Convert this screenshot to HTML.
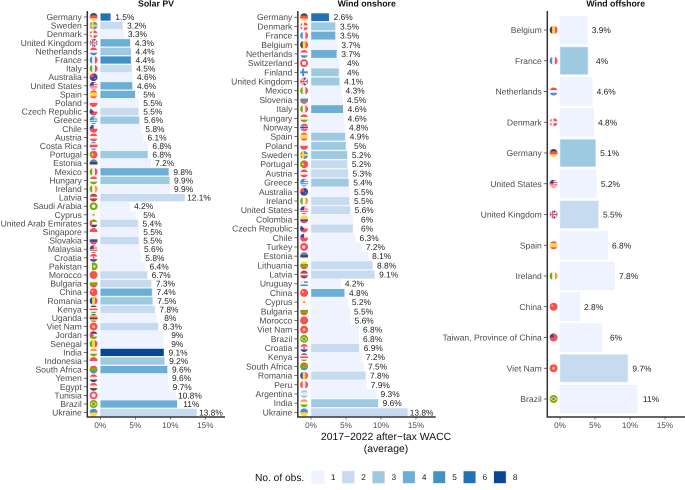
<!DOCTYPE html>
<html lang="en">
<head>
<meta charset="utf-8">
<title>2017-2022 after-tax WACC by technology and country</title>
<style>
html,body{margin:0;padding:0;background:#fff;width:685px;height:490px;overflow:hidden}
svg{display:block;filter:blur(0.3px)}
text{font-family:"Liberation Sans",Arial,sans-serif;text-rendering:geometricPrecision}
</style>
</head>
<body>
<svg id="chart" xmlns="http://www.w3.org/2000/svg" width="685" height="490" viewBox="0 0 685 490">
  <defs><clipPath id="flag-clip"><circle cx="0" cy="0" r="1"></circle></clipPath></defs>
  <rect x="0" y="0" width="685" height="490" fill="#fff"></rect>
  <text x="386" y="440" font-size="10.4" text-anchor="middle" fill="#111">2017−2022 after−tax WACC</text>
  <text x="386" y="452" font-size="10.4" text-anchor="middle" fill="#111">(average)</text>
  <text x="255" y="481" font-size="10.2" fill="#111">No. of obs.</text>
</svg>
<script>
const solarCountries = ["Germany","Sweden","Denmark","United Kingdom","Netherlands","France","Italy","Australia","United States","Spain","Poland","Czech Republic","Greece","Chile","Austria","Costa Rica","Portugal","Estonia","Mexico","Hungary","Ireland","Latvia","Saudi Arabia","Cyprus","United Arab Emirates","Singapore","Slovakia","Malaysia","Croatia","Pakistan","Morocco","Bulgaria","China","Romania","Kenya","Uganda","Viet Nam","Jordan","Senegal","India","Indonesia","South Africa","Yemen","Egypt","Tunisia","Brazil","Ukraine"];
const solarValues = [1.5,3.2,3.3,4.3,4.4,4.4,4.5,4.6,4.6,5,5.5,5.5,5.6,5.8,6.1,6.8,6.8,7.2,9.8,9.9,9.9,12.1,4.2,5,5.4,5.5,5.5,5.6,5.8,6.4,6.7,7.3,7.4,7.5,7.8,8,8.3,9,9,9.1,9.2,9.6,9.6,9.7,10.8,11,13.8];
const solarObs = [6,2,1,4,3,5,2,1,4,4,1,2,3,1,1,1,3,1,4,3,1,2,1,1,2,1,2,1,1,1,2,2,4,3,2,1,2,1,1,8,3,4,1,1,1,4,2];

const onshoreCountries = ["Germany","Denmark","France","Belgium","Netherlands","Switzerland","Finland","United Kingdom","Mexico","Slovenia","Italy","Hungary","Norway","Spain","Poland","Sweden","Portugal","Austria","Greece","Australia","Ireland","United States","Colombia","Czech Republic","Chile","Turkey","Estonia","Lithuania","Latvia","Uruguay","China","Cyprus","Bulgaria","Morocco","Viet Nam","Brazil","Croatia","Kenya","South Africa","Romania","Peru","Argentina","India","Ukraine"];
const onshoreValues = [2.6,3.5,3.5,3.7,3.7,4,4,4.1,4.3,4.5,4.6,4.6,4.8,4.9,5,5.2,5.2,5.3,5.4,5.5,5.5,5.6,6,6,6.3,7.2,8.1,8.8,9.1,4.2,4.8,5.2,5.5,5.6,6.8,6.8,6.9,7.2,7.5,7.8,7.9,9.3,9.6,13.8];
const onshoreObs = [6,3,4,1,4,1,3,3,1,1,4,1,1,3,3,3,2,2,3,1,2,2,1,2,1,1,1,2,2,1,4,1,1,1,1,1,2,1,1,2,1,1,3,2];

const offshoreCountries = ["Belgium","France","Netherlands","Denmark","Germany","United States","United Kingdom","Spain","Ireland","China","Taiwan, Province of China","Viet Nam","Brazil"];
const offshoreValues = [3.9,4,4.6,4.8,5.1,5.2,5.5,6.8,7.8,2.8,6,9.7,11];
const offshoreObs = [1,3,1,1,3,1,2,1,1,1,1,2,1];

const xTickValues = [0,5,10,15];
const legendCounts = [1,2,3,4,5,6,8];

const obsColor = {1:"#eff3ff",2:"#c6dbef",3:"#9ecae1",4:"#6baed6",5:"#4292c6",6:"#2171b5",8:"#084594"};

const R="#ff4b55",W="#f5f5f5",B="#41479b",L="#4a8fd0",G="#73af00",Y="#ffd83d",K="#464655",O="#ff9b3d",S="#a2d0ee",D="#b0394a";
const flagSpecs = {
  "Germany":{h:[K,R,Y]},
  "Sweden":{h:[L],cross:[Y,Y]},
  "Denmark":{h:[R],cross:[W,W]},
  "United Kingdom":{h:[B],cross:[W,R],diag:W},
  "Netherlands":{h:[R,W,L]},
  "France":{v:[L,W,R]},
  "Italy":{v:[G,W,R]},
  "Australia":{h:[B],canton:R,dot:[W,0.12,0.4,0.3]},
  "United States":{h:[R,W,R,W,R,W,R],canton:B},
  "Spain":{h:[R,Y,Y,R]},
  "Poland":{h:[W,R]},
  "Czech Republic":{h:[W,R],tri:B},
  "Greece":{h:[L,W,L,W,L,W,L],canton:L},
  "Chile":{h:[W,R],canton:B},
  "Austria":{h:[R,W,R]},
  "Costa Rica":{h:[L,W,R,R,W,L]},
  "Portugal":{v:[G,R,R],dot:[Y,0.25,-0.25,0]},
  "Estonia":{h:[L,K,W]},
  "Mexico":{v:[G,W,R]},
  "Hungary":{h:[R,W,G]},
  "Ireland":{v:[G,W,O]},
  "Latvia":{h:[D,D,W,D,D]},
  "Saudi Arabia":{h:[G],dot:[W,0.45,0,0]},
  "Cyprus":{h:[W],dot:[O,0.3,0,0]},
  "United Arab Emirates":{h:[G,W,K],vbar:R},
  "Singapore":{h:[R,W]},
  "Slovakia":{h:[W,B,R]},
  "Malaysia":{h:[R,W,R,W,R,W,R],canton:B},
  "Croatia":{h:[R,W,B],dot:[R,0.25,0,0]},
  "Pakistan":{h:[G],vbar:W,dot:[W,0.3,0.2,0]},
  "Morocco":{h:[R],dot:[G,0.3,0,0]},
  "Bulgaria":{h:[W,G,R]},
  "China":{h:[R],dot:[Y,0.25,-0.3,-0.25]},
  "Romania":{v:[B,Y,R]},
  "Kenya":{h:[K,W,R,W,G]},
  "Uganda":{h:[K,Y,R,K,Y,R]},
  "Viet Nam":{h:[R],dot:[Y,0.35,0,0]},
  "Jordan":{h:[K,W,G],tri:R},
  "Senegal":{v:[G,Y,R]},
  "India":{h:[O,W,G]},
  "Indonesia":{h:[R,W]},
  "South Africa":{h:[R,G,L],tri:G},
  "Yemen":{h:[R,W,K]},
  "Egypt":{h:[R,W,K],dot:[Y,0.2,0,0]},
  "Tunisia":{h:[R],dot:[W,0.5,0,0]},
  "Brazil":{h:[G],diamond:Y,dot:[L,0.35,0,0]},
  "Ukraine":{h:[L,Y]},
  "Belgium":{v:[K,Y,R]},
  "Switzerland":{h:[R],dot:[W,0.5,0,0]},
  "Finland":{h:[W],cross:[L,L]},
  "Slovenia":{h:[W,L,R]},
  "Norway":{h:[R],cross:[W,B]},
  "Colombia":{h:[Y,Y,B,R]},
  "Turkey":{h:[R],dot:[W,0.4,-0.1,0]},
  "Lithuania":{h:[Y,G,R]},
  "Uruguay":{h:[W,L,W,L,W],canton:W,dot:[Y,0.2,-0.45,-0.45]},
  "Peru":{v:[R,W,R]},
  "Argentina":{h:[S,W,S],dot:[Y,0.18,0,0]},
  "Taiwan, Province of China":{h:[R],canton:B}
};

const NS = "http://www.w3.org/2000/svg";
const svg = document.getElementById("chart");
const X_SCALE = 7;

function mk(parent, tag, attrs, text) {
  const el = document.createElementNS(NS, tag);
  for (const k in attrs) el.setAttribute(k, attrs[k]);
  if (text !== undefined) el.textContent = text;
  parent.appendChild(el);
  return el;
}

function slug(s) {
  return s.toLowerCase().replace(/[^a-z0-9]+/g, "-");
}

function part(g, tag, attrs) {
  const el = mk(g, tag, attrs);
  
  
  return el;
}

function drawFlag(parent, country, cx, cy, r) {
  const spec = flagSpecs[country] || {h:[W]};
  const g = mk(parent, "g", {transform:"translate("+cx+" "+cy+") scale("+r+")","clip-path":"url(#flag-clip)"});
  
  
  if (spec.h) {
    const n = spec.h.length;
    spec.h.forEach(function (c, i) {
      part(g, "rect", {x:-1, y:-1 + 2*i/n, width:2, height:2/n + 0.01, fill:c});
    });
  }
  if (spec.v) {
    const n = spec.v.length;
    spec.v.forEach(function (c, i) {
      part(g, "rect", {x:-1 + 2*i/n, y:-1, width:2/n + 0.01, height:2, fill:c});
    });
  }
  if (spec.vbar) part(g, "rect", {x:-1, y:-1, width:0.6, height:2, fill:spec.vbar});
  if (spec.canton) part(g, "rect", {x:-1, y:-1, width:1, height:1, fill:spec.canton});
  if (spec.tri) part(g, "polygon", {points:"-1,-1 0.1,0 -1,1", fill:spec.tri});
  if (spec.diag) {
    part(g, "line", {x1:-1, y1:-1, x2:1, y2:1, stroke:spec.diag, "stroke-width":0.35});
    part(g, "line", {x1:-1, y1:1, x2:1, y2:-1, stroke:spec.diag, "stroke-width":0.35});
  }
  if (spec.cross) {
    part(g, "rect", {x:-0.5, y:-1, width:0.5, height:2, fill:spec.cross[0]});
    part(g, "rect", {x:-1, y:-0.25, width:2, height:0.5, fill:spec.cross[0]});
    part(g, "rect", {x:-0.38, y:-1, width:0.26, height:2, fill:spec.cross[1]});
    part(g, "rect", {x:-1, y:-0.13, width:2, height:0.26, fill:spec.cross[1]});
  }
  if (spec.diamond) part(g, "polygon", {points:"-0.9,0 0,-0.65 0.9,0 0,0.65", fill:spec.diamond});
  if (spec.dot) part(g, "circle", {cx:spec.dot[2], cy:spec.dot[3], r:spec.dot[1], fill:spec.dot[0]});
}

const AXIS_TOP = 11;
const AXIS_BOTTOM = 417;

function drawPanel(key, title, titleX, axisX, zeroX, axisEnd, firstY, stepY, countries, values, obs) {
  const xPos = function (v) { return zeroX + v * X_SCALE; };
  const yPos = function (i) { return firstY + i * stepY; };
  const barH = stepY * 0.9;

  const panel = mk(svg, "g", {});
  
  

  const t = mk(panel, "text", {x:titleX, y:6.3, "font-size":8.75, "font-weight":"bold", "text-anchor":"middle", fill:"#111"}, title);
  
  

  countries.forEach(function (country, i) {
    const y = yPos(i);
    const id = key + '-' + slug(country);

    const bar = mk(panel, "rect", {x:xPos(0), y:y - barH/2, width:xPos(values[i]) - xPos(0), height:barH, fill:obsColor[obs[i]], stroke:"#e8effa", "stroke-width":0.5});
    
    

    const lab = mk(panel, "text", {x:xPos(values[i]) + 14, y:y + 3, "font-size":8.4, "text-anchor":"middle", fill:"#222"}, values[i] + "%");
    
    

    const cat = mk(panel, "text", {x:axisX - 5.5, y:y + 3, "font-size":8.6, "text-anchor":"end", fill:"#4d4d4d"}, country);
    
    

    const tick = mk(panel, "line", {x1:axisX - 3.5, x2:axisX, y1:y, y2:y, stroke:"#333", "stroke-width":0.7});
    
    

    drawFlag(panel, country, axisX + 6.3, y, 4);
  });

  const yAxis = mk(panel, "line", {x1:axisX, x2:axisX, y1:AXIS_TOP, y2:AXIS_BOTTOM, stroke:"#333", "stroke-width":1.5});
  
  

  const xAxis = mk(panel, "line", {x1:axisX - 0.75, x2:axisEnd, y1:AXIS_BOTTOM, y2:AXIS_BOTTOM, stroke:"#333", "stroke-width":1.5});
  
  

  xTickValues.forEach(function (v) {
    const tk = mk(panel, "line", {x1:xPos(v), x2:xPos(v), y1:AXIS_BOTTOM, y2:AXIS_BOTTOM + 2.5, stroke:"#333", "stroke-width":0.6});
    
    

    const tl = mk(panel, "text", {x:xPos(v), y:428, "font-size":8.15, "text-anchor":"middle", fill:"#4d4d4d"}, v + "%");
    
    
  });
}

drawPanel("solar-pv", "Solar PV", 156, 87.3, 100.3, 225, 17, 8.6, solarCountries, solarValues, solarObs);
drawPanel("wind-onshore", "Wind onshore", 366.7, 297.8, 311, 435.7, 17.2, 9.19, onshoreCountries, onshoreValues, onshoreObs);
drawPanel("wind-offshore", "Wind offshore", 615.7, 547.3, 560, 685, 30, 30.75, offshoreCountries, offshoreValues, offshoreObs);

legendCounts.forEach(function (c, i) {
  const x = 311.7 + i * 30.33;

  const key = mk(svg, "rect", {x:x, y:471, width:12.4, height:12.4, fill:obsColor[c], stroke:"#e8effa", "stroke-width":0.5});
  
  

  const lab = mk(svg, "text", {x:x + 21.5, y:480.2, "font-size":8.3, "text-anchor":"middle", fill:"#222"}, String(c));
  
  
});
</script>
</body>
</html>
